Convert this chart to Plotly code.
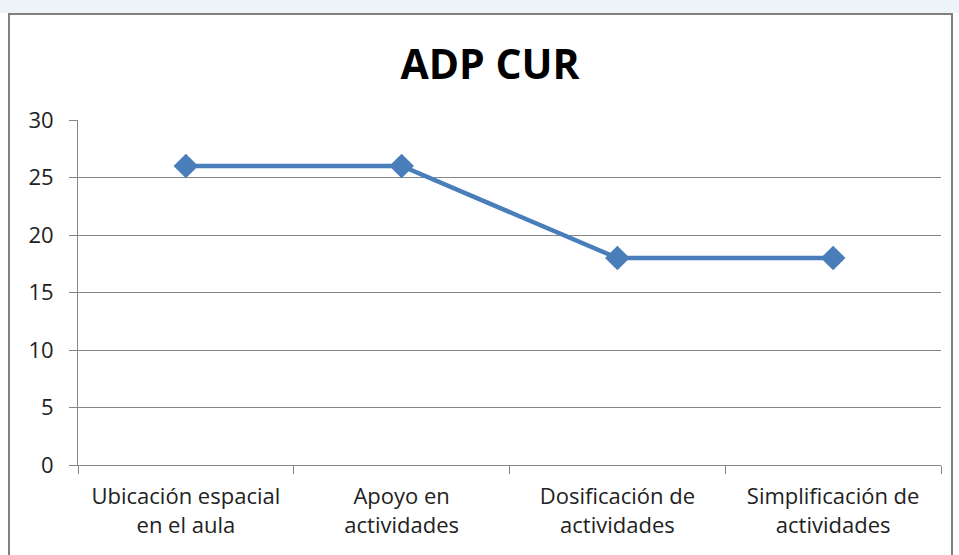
import plotly.graph_objects as go

categories = ["Ubicación espacial<br>en el aula", "Apoyo en<br>actividades",
              "Dosificación de<br>actividades", "Simplificación de<br>actividades"]
values = [26, 26, 18, 18]
y_ticks = [0, 5, 10, 15, 20, 25, 30]
title_text = "ADP CUR"

W, H = 959, 555
L, R, T, B = 78, 18, 120, 90
FONT = "Open Sans"
BLUE = "#4A7EBB"
GRID = "#868686"


def px(x):
    return (x - L) / (W - L - R)


def py(y):
    return 1 - (y - T) / (H - T - B)


fig = go.Figure()
fig.add_trace(go.Scatter(
    x=categories, y=values, mode="lines+markers",
    line=dict(color=BLUE, width=4.5),
    marker=dict(symbol="diamond", size=19, color=BLUE),
    showlegend=False, hoverinfo="x+y",
))

fig.update_layout(
    width=W, height=H,
    paper_bgcolor="white", plot_bgcolor="white",
    margin=dict(l=L, r=R, t=T, b=B),
    title=dict(text="<b>" + title_text + "</b>", x=490 / W, xanchor="center",
               y=1 - 65 / H, yanchor="middle", yref="container",
               font=dict(family=FONT, size=41, color="black")),
    font=dict(family=FONT, size=22, color="#222222"),
    xaxis=dict(type="category", range=[-0.5, 3.5], showgrid=False,
               showline=True, linecolor=GRID, linewidth=1,
               ticks="outside", tickson="boundaries", ticklen=8,
               tickcolor=GRID, ticklabelstandoff=12,
               tickfont=dict(size=22, color="#222222"),
               zeroline=False, fixedrange=True),
    yaxis=dict(range=[0, 30], tickvals=y_ticks, showgrid=True, gridcolor=GRID,
               gridwidth=1, showline=True, linecolor=GRID, linewidth=1,
               ticks="outside", ticklen=8, tickcolor=GRID,
               ticklabelstandoff=11,
               tickfont=dict(size=22, color="#222222"), zeroline=False,
               fixedrange=True),
    shapes=[
        dict(type="rect", xref="paper", yref="paper",
             x0=px(0), x1=px(W), y0=py(13), y1=py(0),
             fillcolor="#EEF3F9", line=dict(width=0), layer="below"),
        dict(type="rect", xref="paper", yref="paper",
             x0=px(9), x1=px(952), y0=py(H + 10), y1=py(14),
             fillcolor="rgba(0,0,0,0)", line=dict(color="#808080", width=2)),
    ],
)

fig.write_html("out.html", config={"displayModeBar": False},
               post_script="document.body.style.margin='0px';")
